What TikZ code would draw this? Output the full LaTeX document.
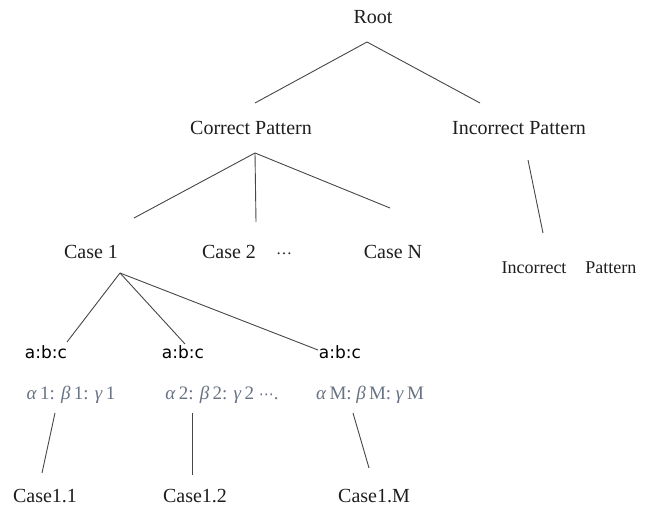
\documentclass[tikz,border=0pt]{standalone}
\usepackage{fontspec}
\setmainfont{Liberation Serif}
\newfontfamily\abcfont{DejaVu Sans}
\definecolor{txt}{RGB}{30,30,30}
\definecolor{greek}{RGB}{105,115,132}
\definecolor{edge}{RGB}{70,70,70}
\begin{document}
\begin{tikzpicture}[x=1pt,y=-1pt,
  lbl/.style={inner sep=0pt,text=txt,font=\fontsize{20}{22}\selectfont},
  abc/.style={inner sep=0pt,text=black,font=\abcfont\fontsize{17}{19}\selectfont},
  grk/.style={inner sep=0pt,text=greek,font=\fontsize{19}{21}\selectfont},
  oddlbl/.style={inner sep=0pt,text=txt,font=\fontsize{18}{20}\selectfont},
  link/.style={draw=edge,line width=0.9pt}]
\useasboundingbox (0,0) rectangle (651,510);
% nodes
\node[lbl] (root) at (373,17) {Root};
\node[lbl] (cp) at (251,128) {Correct Pattern};
\node[lbl] (ip) at (519,128) {Incorrect Pattern};
\node[lbl] (c1) at (91,252) {Case 1};
\node[lbl] (c2) at (229,252) {Case 2};
\node[lbl,font=\fontsize{16}{18}\selectfont] (dots) at (284,254) {…};
\node[lbl] (cN) at (393,252) {Case N};
\node[oddlbl] (ip2) at (569,268) {Incorrect\hspace{19pt}Pattern};
\node[abc] (a1) at (46,352) {a:b:c};
\node[abc] (a2) at (183,352) {a:b:c};
\node[abc] (a3) at (340,352) {a:b:c};
\node[grk] (g1) at (71,395) {\textit{α}\,1: \textit{β}\,1: \textit{γ}\,1};
\node[grk] (g2) at (222,395) {\textit{α}\,2: \textit{β}\,2: \textit{γ}\,2 {\abcfont\fontsize{15}{17}\selectfont ⋯}.};
\node[grk] (g3) at (370,395) {\textit{α}\,M: \textit{β}\,M: \textit{γ}\,M};
\node[lbl] (c11) at (45,496) {Case1.1};
\node[lbl] (c12) at (195,496) {Case1.2};
\node[lbl] (c1M) at (374,496) {Case1.M};
% connector end points
\coordinate (rootA) at (367,42);
\coordinate (cpT) at (255,103);
\coordinate (ipT) at (480,103);
\coordinate (cpA) at (255,153);
\coordinate (c1T) at (134,218);
\coordinate (c2T) at (256,222);
\coordinate (cNT) at (390,208);
\coordinate (ipA) at (528,160);
\coordinate (ip2T) at (543,233);
\coordinate (c1A) at (120,273);
\coordinate (a1T) at (67,342);
\coordinate (a2T) at (185,344);
\coordinate (a3T) at (318,350);
\coordinate (g1B) at (55,413);
\coordinate (g2B) at (192,413);
\coordinate (g3B) at (353,413);
\coordinate (c11T) at (42,473);
\coordinate (c12T) at (192,475);
\coordinate (c1MT) at (369,468);
% connectors
\draw[link] (rootA) -- (cpT);
\draw[link] (rootA) -- (ipT);
\draw[link] (cpA) -- (c1T);
\draw[link] (cpA) -- (c2T);
\draw[link] (cpA) -- (cNT);
\draw[link] (ipA) -- (ip2T);
\draw[link] (c1A) -- (a1T);
\draw[link] (c1A) -- (a2T);
\draw[link] (c1A) -- (a3T);
\draw[link] (g1B) -- (c11T);
\draw[link] (g2B) -- (c12T);
\draw[link] (g3B) -- (c1MT);
\end{tikzpicture}
\end{document}
